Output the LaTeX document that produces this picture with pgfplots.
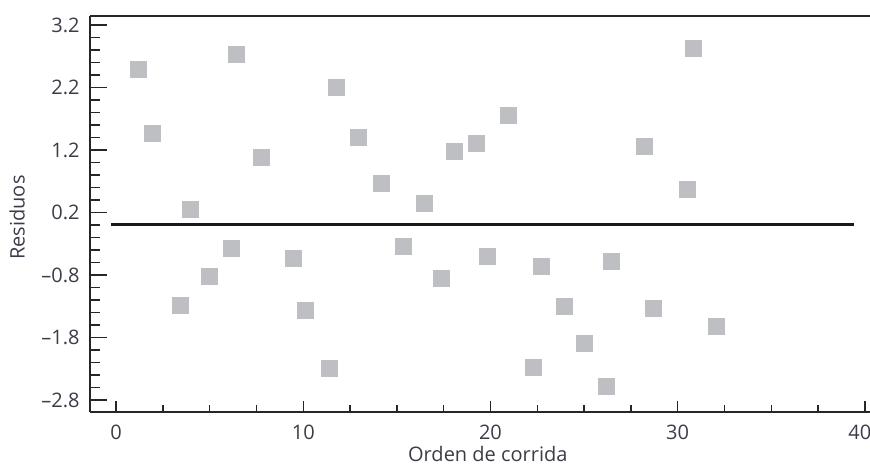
\documentclass[border=0pt]{standalone}
\usepackage{pgfplots}
\pgfplotsset{compat=1.18}
\usepackage{fontspec}
\setmainfont{Open Sans}
\definecolor{mk}{RGB}{190,191,195}
\definecolor{tx}{RGB}{60,60,72}
\begin{document}
\begin{tikzpicture}
\begin{axis}[
  scale only axis, width=390pt, height=198pt,
  xmin=-1.394, xmax=40.276, ymin=-2.992, ymax=3.344,
  axis x line*=bottom, axis y line*=left,
  axis line style={black!85, line width=0.8pt},
  xtick={0,10,20,30,40}, xticklabels={0,10,20,30,{\hspace*{-5pt}40}},
  ytick={-2.8,-1.8,-0.8,0.2,1.2,2.2,3.2},
  yticklabels={--2.8,--1.8,--0.8,0.2,1.2,2.2,3.2},
  minor x tick num=3, minor y tick num=4,
  tick align=inside,
  tick style={black!85, line width=0.7pt},
  xtick style={/pgfplots/major tick length=5.5pt, /pgfplots/minor tick length=3.5pt},
  ytick style={/pgfplots/major tick length=8.5pt, /pgfplots/minor tick length=5pt},
  ticklabel style={font=\fontsize{10}{12}\selectfont, text=tx},
  yticklabel style={xshift=-1.7pt},
  xticklabel style={yshift=-3.2pt},
  xlabel={Orden de corrida}, ylabel={Residuos},
  label style={font=\fontsize{10}{12}\selectfont, text=tx},
  xlabel style={at={(axis description cs:0.51,0)}, anchor=north, yshift=-13.7pt},
  ylabel style={at={(axis description cs:0,0.491)}, anchor=south, yshift=29pt},
  clip=false,
]
\addplot[only marks, mark=square*, mark size=4pt, mark options={fill=mk, draw=mk}] table {
x y
1.186 2.496
1.934 1.467
3.414 -1.291
3.948 0.256
4.963 -0.827
6.138 -0.379
6.406 2.731
7.779 1.083
9.488 -0.541
10.108 -1.368
11.385 -2.293
11.764 2.200
12.939 1.395
14.152 0.669
15.365 -0.347
16.449 0.344
17.384 -0.851
18.090 1.173
19.265 1.301
19.815 -0.504
20.974 1.747
22.273 -2.275
22.700 -0.664
23.945 -1.304
25.040 -1.899
26.210 -2.579
26.456 -0.589
28.240 1.256
28.721 -1.336
30.516 0.573
30.821 2.824
32.065 -1.619
};
\addplot[black!90, line width=1.5pt] coordinates {(-0.27,0) (39.42,0)};
\draw[black!85, line width=0.8pt] (rel axis cs:0,1) -- (rel axis cs:1,1);
\coordinate (sw) at (rel axis cs:0,0);
\coordinate (ne) at (rel axis cs:1,1);
\end{axis}
\pgfresetboundingbox
\path[use as bounding box] ([xshift=-45pt,yshift=-27pt]sw) rectangle ([yshift=8pt]ne);
\end{tikzpicture}
\end{document}
